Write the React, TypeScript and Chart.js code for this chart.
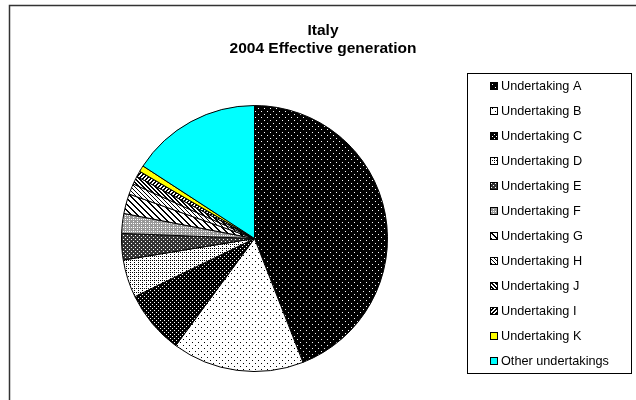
import React, { useEffect, useRef } from "react";
import { Chart, registerables } from "chart.js";

Chart.register(...registerables);

// ---- data ----
const categories: string[] = [
  "Undertaking A",
  "Undertaking B",
  "Undertaking C",
  "Undertaking D",
  "Undertaking E",
  "Undertaking F",
  "Undertaking G",
  "Undertaking H",
  "Undertaking J",
  "Undertaking I",
  "Undertaking K",
  "Other undertakings",
];
const shares: number[] = [44.0, 16.0, 7.7, 4.6, 3.2, 2.4, 2.4, 1.3, 1.0, 0.7, 0.75, 15.8];
const titleLines: string[] = ["Italy", "2004 Effective generation"];

// ---- styling helpers ----
function makePattern(
  size: number,
  bg: string,
  fg: string,
  on: (x: number, y: number) => boolean
): CanvasPattern | string {
  const c = document.createElement("canvas");
  c.width = size;
  c.height = size;
  const g = c.getContext("2d");
  if (!g) return bg;
  g.fillStyle = bg;
  g.fillRect(0, 0, size, size);
  g.fillStyle = fg;
  for (let y = 0; y < size; y++) {
    for (let x = 0; x < size; x++) {
      if (on(x, y)) g.fillRect(x, y, 1, 1);
    }
  }
  return g.createPattern(c, "repeat") || bg;
}

function buildFills(): (CanvasPattern | string)[] {
  return [
    makePattern(6, "#000", "#fff", (x, y) => (x === 0 && y === 0) || (x === 3 && y === 3)),
    makePattern(6, "#fff", "#000", (x, y) => (x === 0 && y === 0) || (x === 3 && y === 3)),
    makePattern(4, "#000", "#fff", (x, y) => (x === 0 && y === 0) || (x === 2 && y === 2)),
    makePattern(4, "#fff", "#000", (x, y) => (x === 0 && y === 0) || (x === 2 && y === 2) || (x === 2 && y === 0)),
    makePattern(4, "#333", "#fff", (x, y) => (x === 1 && y === 1) || (x === 3 && y === 3)),
    makePattern(4, "#999", "#fff", (x, y) => (x === 1 && y === 1) || (x === 3 && y === 3) || (x === 1 && y === 3)),
    makePattern(6, "#fff", "#000", (x, y) => ((x - y + 12) % 6) <= 1),
    makePattern(4, "#fff", "#000", (x, y) => ((x - y + 8) % 4) === 0),
    makePattern(4, "#fff", "#000", (x, y) => ((x - y + 8) % 4) <= 1),
    makePattern(4, "#fff", "#000", (x, y) => ((x + y) % 4) <= 1),
    "#ffff00",
    "#00ffff",
  ];
}

const decorPlugin = {
  id: "decor",
  afterDraw(chart: any) {
    const ctx: CanvasRenderingContext2D = chart.ctx;
    ctx.save();
    // outer frame (extends past right/bottom edge)
    ctx.strokeStyle = "#333";
    ctx.lineWidth = 1.5;
    ctx.beginPath();
    ctx.moveTo(9.5, 402);
    ctx.lineTo(9.5, 5.5);
    ctx.lineTo(640, 5.5);
    ctx.stroke();

    // title
    ctx.fillStyle = "#000";
    ctx.textAlign = "center";
    ctx.textBaseline = "alphabetic";
    ctx.font = "bold 15.5px 'Liberation Sans', Arial, sans-serif";
    ctx.fillText(titleLines[0], 323, 35);
    ctx.fillText(titleLines[1], 323, 53);

    // legend box
    ctx.strokeStyle = "#000";
    ctx.lineWidth = 1;
    ctx.strokeRect(467.5, 73.5, 164, 300);

    const ds = chart.data.datasets[0];
    const labels: string[] = chart.data.labels;
    ctx.font = "12.7px 'Liberation Sans', Arial, sans-serif";
    ctx.textAlign = "left";
    ctx.textBaseline = "middle";
    labels.forEach((lab, i) => {
      const cy = 86 + 25 * i;
      ctx.fillStyle = ds.backgroundColor[i];
      ctx.fillRect(490, cy - 4, 8, 8);
      ctx.strokeStyle = "#000";
      ctx.strokeRect(490.5, cy - 3.5, 7, 7);
      ctx.fillStyle = "#000";
      ctx.fillText(lab, 501, cy + 0.5);
    });
    ctx.restore();
  },
};

export default function App() {
  const ref = useRef<HTMLCanvasElement | null>(null);

  useEffect(() => {
    if (!ref.current) return;
    document.body.style.margin = "0";
    const fills = buildFills();
    const chart = new Chart(ref.current, {
      type: "pie",
      data: {
        labels: categories,
        datasets: [
          {
            data: shares,
            backgroundColor: fills as any,
            borderColor: "#000",
            borderWidth: 1,
            hoverOffset: 0,
            offset: 0,
          },
        ],
      },
      options: {
        responsive: false,
        animation: false,
        devicePixelRatio: 1,
        events: [],
        layout: { padding: { left: 121, right: 248, top: 105, bottom: 28 } },
        plugins: {
          legend: { display: false },
          title: { display: false },
          tooltip: { enabled: false },
        },
      },
      plugins: [decorPlugin],
    });
    return () => chart.destroy();
  }, []);

  return (
    <div style={{ position: "absolute", left: 0, top: 0, width: 636, height: 400, background: "#fff" }}>
      <canvas ref={ref} width={636} height={400} />
    </div>
  );
}
